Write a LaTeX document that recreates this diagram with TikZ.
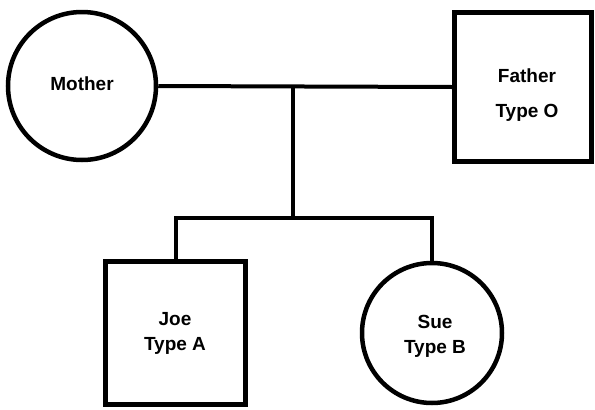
\documentclass[tikz,border=0pt]{standalone}
\usepackage{fontspec}
\setmainfont{Liberation Sans}
\begin{document}
\begin{tikzpicture}[x=1pt,y=-1pt,
  famline/.style={line width=4pt},
  female/.style={draw,circle,line width=4.5pt,minimum size=#1,inner sep=0pt},
  male/.style={draw,rectangle,line width=4.5pt,inner sep=0pt},
  lbl/.style={font=\fontsize{19}{25}\selectfont\bfseries,align=center,inner sep=0pt}]
  \useasboundingbox (0,0) rectangle (595,410);
  % parents
  \node[female=148pt] (mother) at (82,86) {};
  \node[male,minimum width=137pt,minimum height=149pt] (father) at (523,87) {};
  % children
  \node[male,minimum width=140pt,minimum height=143pt] (joe) at (175.5,333) {};
  \node[female=140pt] (sue) at (432,333) {};
  % names and blood types
  \node[lbl] (mothertxt) at (82,84) {Mother};
  \node[lbl,font=\fontsize{19}{35}\selectfont\bfseries] (fathertxt) at (527,95) {Father\\Type O};
  \node[lbl] (joetxt) at (175,333) {Joe\\Type A};
  \node[lbl] (suetxt) at (435,336) {Sue\\Type B};
  % marriage line and descent
  \coordinate (mid) at (293,87);
  \coordinate (sib) at (293,218);
  \draw[famline] (mother.east) -- (father.west);
  \draw[famline] (mid) -- (sib);
  \draw[famline,line join=miter] (joe.north) -- (joe.north |- sib) -- (sue.north |- sib) -- (sue.north);
\end{tikzpicture}
\end{document}
